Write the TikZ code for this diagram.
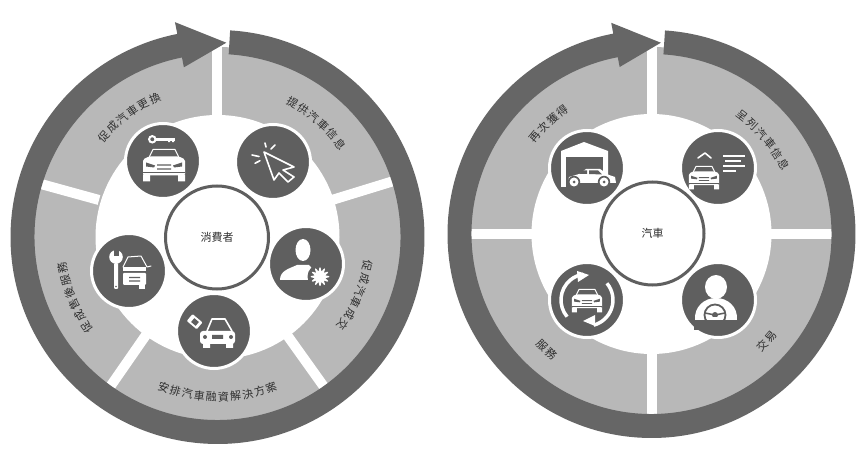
\documentclass[tikz,border=0pt]{standalone}
\usepackage{fontspec}
\usetikzlibrary{decorations.text}
\newfontfamily\cjk{Noto Sans CJK TC}
\definecolor{ringc}{HTML}{666666}
\definecolor{bandc}{HTML}{B8B8B8}
\definecolor{icd}{HTML}{5F5F5F}
\definecolor{txtc}{HTML}{2E2E2E}
\newcommand\lblfont{\cjk\fontsize{11}{11}\selectfont\color{txtc}}
\tikzset{
  iconbg/.style={circle,fill=icd,draw=white,line width=3pt,minimum size=75pt,inner sep=0pt},
  hub/.style={circle,fill=white,draw=icd,line width=3pt,minimum size=103pt,inner sep=0pt,text=txtc,font=\cjk\fontsize{11}{11}\selectfont},
  sepline/.style={white,line width=10pt},
  wl/.style={white,line width=#1,line cap=round,line join=round},
  wl/.default=1pt,
  dl/.style={icd,line width=#1},
  dl/.default=1pt
}
% clockwise label (tops outward): centre x,y (y up), mid angle from north, radius, number of chars, text
\newcommand\cwlabel[6]{%
  \pgfmathsetmacro\lenarc{(#5-1)*12.5+11}%
  \pgfmathsetmacro\delt{\lenarc/(#4-4)*57.296}%
  \pgfmathsetmacro\sa{90-#3+\delt/2}%
  \pgfmathsetmacro\ea{90-#3-\delt/2}%
  \path[shift={(#1,464-#2)},decorate,decoration={text along path,text align={fit to path},text={|\lblfont|#6}}]
    (\sa:#4-4) arc[start angle=\sa,end angle=\ea,radius=#4-4];%
}
% smile label (tops inward)
\newcommand\smlabel[6]{%
  \pgfmathsetmacro\lenarc{(#5-1)*12.5+11}%
  \pgfmathsetmacro\delt{\lenarc/(#4+4)*57.296}%
  \pgfmathsetmacro\sa{90-#3+\delt/2}%
  \pgfmathsetmacro\ea{90-#3-\delt/2}%
  \path[shift={(#1,464-#2)},decorate,decoration={text along path,text align={fit to path},text={|\lblfont|#6}}]
    (\ea:#4+4) arc[start angle=\ea,end angle=\sa,radius=#4+4];%
}
% ring with arrow; angles in the flipped system grow clockwise
\newcommand\ringarrow[9]{% cx cy Rout Rin startA endA headOut headIn tipA
  \fill[ringc,shift={(#1,#2)}] (#5:#3) arc[start angle=#5,end angle=#6,radius=#3]
    -- (#6:#7) -- (#9:#3/2+#4/2-0.5) -- (#6:#8) -- (#6:#4)
    arc[start angle=#6,end angle=#5,radius=#4] -- cycle;
}
\newcommand\carfront{%
  \draw[wl=1pt] (-15,-4) -- (-11,-12) -- (11,-12) -- (15,-4);
  \fill[white,rounded corners=1.5pt] (-21,-2) -- (-15,-5) -- (15,-5) -- (21,-2) -- (21,14) -- (-21,14) -- cycle;
  \fill[white] (-21,13) rectangle (-14,20) (14,13) rectangle (21,20);
  \fill[icd] (-18,1) -- (-9,4) -- (-10,6) -- (-18,5) -- cycle (18,1) -- (9,4) -- (10,6) -- (18,5) -- cycle;
  \fill[icd] (-7,3) rectangle (7,4.2) (-7,7) rectangle (7,8.2);
  \fill[icd] (-21,11) rectangle (21,12);
}
\begin{document}
\begin{tikzpicture}[x=1pt,y=1pt]
\useasboundingbox (0,0) rectangle (863,464);
\fill[white] (0,0) rectangle (863,464);
\begin{scope}[yshift=464pt,yscale=-1]
% ---------- left wheel
\fill[bandc] (217.5,237) circle[radius=190];
\fill[white] (217.5,237) circle[radius=122];
\coordinate (la1) at (217,120); \coordinate (la2) at (217,40);
\coordinate (lb1) at (99,200); \coordinate (lb2) at (30,181);
\coordinate (lc1) at (332,200); \coordinate (lc2) at (410,176);
\coordinate (ld1) at (146,335); \coordinate (ld2) at (103,397);
\coordinate (le1) at (287,335); \coordinate (le2) at (332,398);
\draw[sepline] (la1) -- (la2);
\draw[sepline] (lb1) -- (lb2);
\draw[sepline] (lc1) -- (lc2);
\draw[sepline] (ld1) -- (ld2);
\draw[sepline] (le1) -- (le2);
\ringarrow{217.5}{237}{207}{183}{-86.5}{258.8}{219}{173}{-87.4}
\node[hub] (consumer) at (217,237.5) {消費者};
\node[iconbg] (keycar) at (163,161) {};
\node[iconbg] (cursor) at (273,162) {};
\node[iconbg] (person) at (306,264) {};
\node[iconbg] (cartag) at (214,331) {};
\node[iconbg] (wrench) at (129,271) {};
% key + car
\begin{scope}[shift={(163,161)}]
  \draw[white,line width=2pt] (-10.7,-21.7) circle[radius=3.2];
  \fill[white] (-7.5,-23.2) rectangle (12,-20.2);
  \fill[white] (5,-20.5) rectangle (7,-18.8) (9,-20.5) rectangle (11,-18.8);
  \begin{scope}[shift={(1,0.5)}] \carfront \end{scope}
\end{scope}
% cursor
\begin{scope}[shift={(273,162)}]
  \draw[wl=1.6pt] (-9,-10) -- (21,5) -- (10,8) -- (21,15) -- (15,20) -- (6,11) -- (1,18) -- cycle;
  \draw[wl=1.6pt] (-8,-19) -- (-7,-15) (2,-17) -- (-2,-13) (-21,-7) -- (-14,-5.5) (-18,1.3) -- (-13,-1.3);
\end{scope}
% person + gear
\begin{scope}[shift={(306,264)}]
  \fill[white] (-3,-14) ellipse[x radius=7.5,y radius=11];
  \fill[white] (-26,16) .. controls (-26,7) and (-18,5) .. (-9,1) -- (3,1) .. controls (8,5) and (8,10) .. (6,16) -- cycle;
  \fill[icd] (14,12.7) circle[radius=12.5];
  \fill[white] plot[domain=0:360,samples=73,smooth cycle] ({14+(7.5+2*cos(12*\x))*cos(\x)},{12.7+(7.5+2*cos(12*\x))*sin(\x)});
\end{scope}
% car + tag
\begin{scope}[shift={(214,331)}]
  \draw[wl=1.6pt] (-7,0) -- (-2,-12) -- (11,-12) -- (18,0);
  \fill[white,rounded corners=3pt] (-14,0) rectangle (21,13);
  \fill[white] (-11,11) rectangle (-4,17) (12,11) rectangle (19,17);
  \fill[icd] (-9,6) circle[radius=2] (17,6) circle[radius=2] (-2,4) rectangle (9,8);
  \begin{scope}[shift={(-19,-9)},rotate=40]
    \fill[white,rounded corners=1pt] (-7,-4.5) rectangle (6,4.5);
    \fill[icd] (-3,-2.5) rectangle (3,2.5);
  \end{scope}
\end{scope}
% wrench + car
\begin{scope}[shift={(129,271)}]
  \draw[wl=1pt] (-6,-4) -- (-1,-14) -- (12,-15) -- (18,-4) -- (22,-5);
  \fill[white] (-6,-4) rectangle (17,0);
  \fill[white,rounded corners=1pt] (-6,2) rectangle (17,14);
  \fill[white] (10,13) rectangle (16,18);
  \fill[icd] (0,6) rectangle (11,7.2) (0,9.5) rectangle (11,10.7);
  \fill[white,rounded corners=1pt] (-14.8,-8) rectangle (-10.8,18);
  \fill[white] (-13,-14) circle[radius=6.8];
  \fill[icd] (-15.5,-23) rectangle (-10.5,-15);
  \fill[icd] (-13,15.5) circle[radius=0.9];
\end{scope}
% ---------- right wheel
\fill[bandc] (651.5,234) circle[radius=187];
\fill[white] (651.5,234) circle[radius=120];
\coordinate (ra1) at (652,120); \coordinate (ra2) at (652,38);
\coordinate (rb1) at (652,350); \coordinate (rb2) at (652,425);
\coordinate (rc1) at (540,234.5); \coordinate (rc2) at (465,234.5);
\coordinate (rd1) at (765,234.5); \coordinate (rd2) at (838,234.5);
\draw[sepline] (ra1) -- (ra2);
\draw[sepline] (rb1) -- (rb2);
\draw[sepline] (rc1) -- (rc2);
\draw[sepline] (rd1) -- (rd2);
\ringarrow{651.5}{234}{204}{180}{-86.2}{259.2}{215}{170}{-87.2}
\node[hub] (vehicle) at (652.5,233.5) {汽車};
\node[iconbg] (garage) at (587,168) {};
\node[iconbg] (listing) at (718,168) {};
\node[iconbg] (service) at (587,300) {};
\node[iconbg] (driver) at (718,300) {};
% garage
\begin{scope}[shift={(587,168)}]
  \fill[white] (-26,19) -- (-26,-17) -- (-3,-26) -- (21,-17) -- (21,6) -- (-22,19) -- cycle;
  \fill[icd] (-21.5,-11) rectangle (15.5,19);
  \fill[white] (-19,15) -- (-18,9) -- (-8,6) -- (-1,1) -- (13,1) -- (22,7) -- (28,9) -- (29,15) -- cycle;
  \fill[icd] (-5,2.5) -- (0,2.5) -- (0,6) -- (-8,6) -- cycle (2,2.5) -- (11,2.5) -- (15,6.5) -- (2,6) -- cycle;
  \fill[icd] (-13,14) circle[radius=6.2] (17,14) circle[radius=6.2];
  \fill[white] (-13,14) circle[radius=4.5] (17,14) circle[radius=4.5];
  \fill[icd] (-13,14) circle[radius=1.5] (17,14) circle[radius=1.5];
\end{scope}
% listing
\begin{scope}[shift={(718,168)}]
  \draw[wl=1.6pt] (-20,-10) -- (-13,-15) -- (-7,-10);
  \draw[white,line width=1.8pt] (5,-12) -- (27,-12) (7,-7) -- (23,-7) (5,-2) -- (27,-2) (5,3) -- (18,3);
  \begin{scope}[shift={(-14,7)},scale=0.72] \carfront \end{scope}
\end{scope}
% service
\begin{scope}[shift={(587,300)}]
  \begin{scope}[shift={(0,-2)},scale=0.72] \carfront \end{scope}
  \draw[white,line width=3.5pt] (140:26) arc[start angle=140,end angle=262,radius=26];
  \draw[white,line width=3.5pt] (-40:26) arc[start angle=-40,end angle=75,radius=26];
  \fill[white] (-10,-29) -- (2,-25) -- (-9,-18) -- cycle;
  \fill[white] (8,15) -- (-4,21) -- (8,26) -- cycle;
\end{scope}
% driver
\begin{scope}[shift={(718,300)}]
  \fill[white] (-2,-13) ellipse[x radius=11,y radius=12];
  \fill[white] (-23,20) .. controls (-24,7) and (-14,-2) .. (-2,-2) .. controls (10,-2) and (20,7) .. (19,20) -- cycle;
  \draw[icd,line width=1.8pt] (-3,15) circle[radius=10.5];
  \draw[icd,line width=1.5pt] (-13,13) -- (-3,15) -- (7,13) (-3,15) -- (-3,25);
  \fill[icd] (-3,15) circle[radius=3];
  \fill[icd] (-24,20.5) rectangle (20,30);
  \fill[white] (-7,17) rectangle (1,20.5);
\end{scope}
\end{scope}
% ---------- labels (y up)
\cwlabel{217.5}{237}{-36.4}{152}{6}{促成汽車更換}
\cwlabel{217.5}{237}{41}{154}{6}{提供汽車信息}
\cwlabel{217.5}{237}{113}{153}{6}{促成汽車成交}
\smlabel{217.5}{237}{180}{160}{10}{安排汽車融資解決方案}
\cwlabel{217.5}{237}{247}{158}{6}{促成售後服務}
\cwlabel{651.5}{234}{-43}{152}{4}{再次獲得}
\cwlabel{651.5}{234}{50}{149}{6}{呈列汽車信息}
\smlabel{651.5}{234}{222}{156}{2}{服務}
\smlabel{651.5}{234}{133}{158}{2}{交易}
\end{tikzpicture}
\end{document}
